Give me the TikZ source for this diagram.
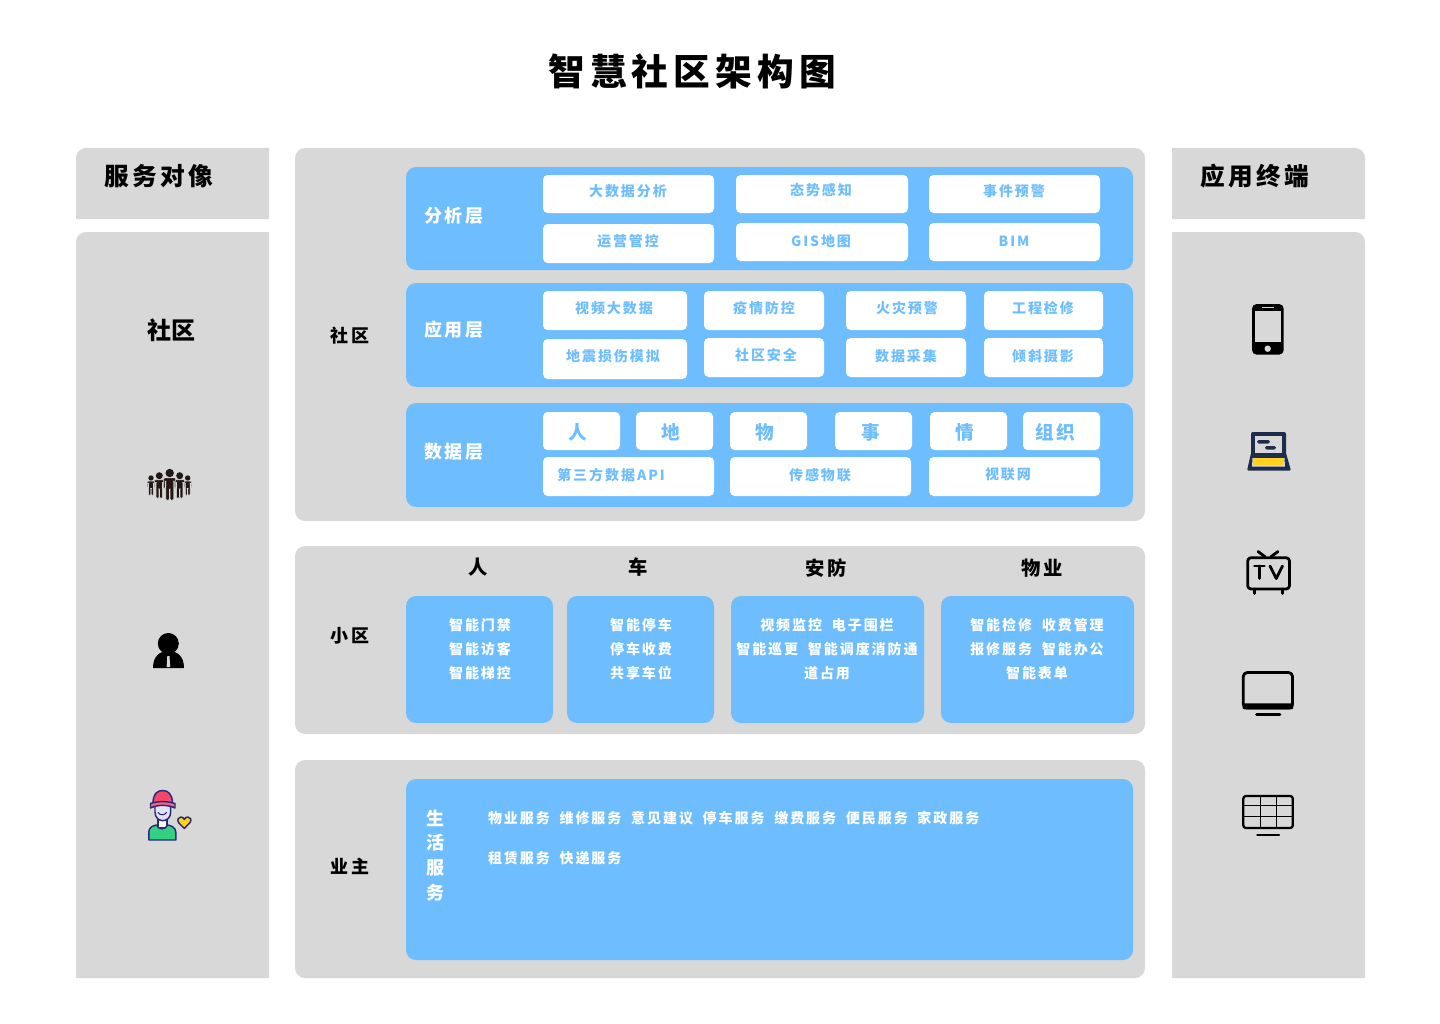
\documentclass[tikz,border=0pt]{standalone}
\usepackage{fontspec}
\newfontfamily\cj[LetterSpace=14]{Noto Sans CJK SC}
\definecolor{panel}{HTML}{D8D8D8}
\definecolor{sky}{HTML}{6EBEFF}
\definecolor{navy}{HTML}{1F2D4D}
\definecolor{ink}{HTML}{231815}
\definecolor{outl}{HTML}{2A2A7C}
\definecolor{capred}{HTML}{F4476B}
\definecolor{shirt}{HTML}{35D07F}
\definecolor{gold}{HTML}{FFD21F}
\definecolor{facec}{HTML}{E4E2F8}
\newcommand\gp{ \hspace{3.4pt}}
\tikzset{
  base/.style={inner sep=0pt,outer sep=0pt,align=center},
  grey/.style={base,fill=panel,rounded corners=7.5pt,anchor=north west},
  blue/.style={base,fill=sky,rounded corners=7.5pt,anchor=north west},
  wb/.style={base,fill=white,rounded corners=3.5pt,anchor=north west},
  tsm/.style={base,text=sky,font=\cj\bfseries\fontsize{10.5pt}{12pt}\selectfont},
  tbig/.style={base,text=sky,font=\cj\bfseries\fontsize{14pt}{16pt}\selectfont},
  tlay/.style={base,text=white,font=\cj\bfseries\fontsize{13.5pt}{16pt}\selectfont},
  twh/.style={base,text=white,font=\cj\bfseries\fontsize{10.5pt}{18pt}\selectfont},
  tblk/.style={base,text=black,font=\cj\bfseries\fontsize{13.5pt}{16pt}\selectfont},
  tcol/.style={base,text=black,font=\cj\bfseries\fontsize{14.5pt}{16pt}\selectfont},
  thead/.style={base,text=black,font=\cj\bfseries\fontsize{18.5pt}{20pt}\selectfont},
  ttitle/.style={base,text=black,font=\cj\bfseries\fontsize{27.5pt}{30pt}\selectfont},
  icon/.style={line width=2.1pt,line cap=round,line join=round,draw=black},
}
\newcommand\rbox[6]{\node[#2,minimum width={(#5-#3)*0.75pt},minimum height={(#6-#4)*0.75pt}] (#1) at (#3,#4) {};}
\newcommand\wbox[8]{\rbox{#1}{wb}{#2}{#3}{#4}{#5}\node[tsm] (#1t) at (#6,#7) {#8};}
\newcommand\dbox[7]{\rbox{#1}{wb}{#2}{#3}{#4}{#5}\node[tbig] (#1t) at (#6,432) {#7};}
\newcommand\crowd[3]{\begin{scope}[shift={(#1,#2)},x=#3*0.75pt,y=-#3*0.75pt]
  \fill[ink] (0,0) circle[radius=4.2];
  \filldraw[fill=ink,draw=panel,line width=0.35pt,rounded corners=0.7pt] (-6,5) -- (6,5) -- (6,15.5) -- (4.6,15.5) -- (4.6,8) -- (3.8,8) -- (3.8,27) -- (0.4,27) -- (0.4,16) -- (-0.4,16) -- (-0.4,27) -- (-3.8,27) -- (-3.8,8) -- (-4.6,8) -- (-4.6,15.5) -- (-6,15.5) -- cycle;
\end{scope}}
\begin{document}
\begin{tikzpicture}[x=0.75pt,y=-0.75pt]
\useasboundingbox (0,0) rectangle (1440,1024);
\fill[white] (0,0) rectangle (1440,1024);
\node[ttitle] (title) at (692,71) {智慧社区架构图};
% side panels
\fill[panel] (76,219) [rounded corners=7.5pt] -- (76,148) [sharp corners] -- (269,148) -- (269,219) -- cycle;
\fill[panel] (76,978) [rounded corners=7.5pt] -- (76,232) [sharp corners] -- (269,232) -- (269,978) -- cycle;
\fill[panel] (1172,219) -- (1172,148) [rounded corners=7.5pt] -- (1365,148) [sharp corners] -- (1365,219) -- cycle;
\fill[panel] (1172,978) -- (1172,232) [rounded corners=7.5pt] -- (1365,232) [sharp corners] -- (1365,978) -- cycle;
\node[thead] (hl) at (159,176) {服务对像};
\node[thead] (hr) at (1255,176) {应用终端};
\node[base,text=black,font=\cj\bfseries\fontsize{18pt}{22pt}\selectfont] (sq) at (171,330) {\addfontfeature{LetterSpace=0}社区};
% centre panels
\rbox{g1}{grey}{295}{148}{1145}{521}
\rbox{g2}{grey}{295}{546}{1145}{734}
\rbox{g3}{grey}{295}{760}{1145}{978}
\node[tblk] (l1) at (350,336) {社区};
\node[tblk] (l2) at (350,636) {小区};
\node[tblk] (l3) at (350,866) {业主};
% layers
\rbox{b1}{blue}{406}{167}{1133}{270}
\rbox{b2}{blue}{406}{283}{1133}{387}
\rbox{b3}{blue}{406}{403}{1133}{507}
\node[tlay] (t1) at (454,216) {分析层};
\node[tlay] (t2) at (454,330) {应用层};
\node[tlay] (t3) at (454,452) {数据层};
\wbox{a1}{543}{175}{714}{213}{628}{191}{大数据分析}
\wbox{a2}{736}{175}{908}{213}{821}{190}{态势感知}
\wbox{a3}{929}{175}{1100}{213}{1014}{191}{事件预警}
\wbox{a4}{543}{224}{714}{263}{628}{241}{运营管控}
\wbox{a5}{736}{223}{908}{261}{821}{241}{GIS地图}
\wbox{a6}{929}{223}{1100}{261}{1014}{241}{BIM}
\wbox{p1}{543}{291}{687}{330}{614}{308}{视频大数据}
\wbox{p2}{704}{291}{824}{330}{764}{308}{疫情防控}
\wbox{p3}{846}{291}{966}{330}{907}{308}{火灾预警}
\wbox{p4}{984}{291}{1103}{330}{1043}{308}{工程检修}
\wbox{p5}{543}{339}{687}{379}{613}{356}{地震损伤模拟}
\wbox{p6}{704}{338}{824}{377}{766}{355}{社区安全}
\wbox{p7}{846}{338}{966}{377}{906}{356}{数据采集}
\wbox{p8}{984}{338}{1103}{377}{1043}{356}{倾斜摄影}
\dbox{d1}{543}{412}{620}{450}{578}{人}
\dbox{d2}{636}{412}{713}{450}{671}{地}
\dbox{d3}{730}{412}{807}{450}{765}{物}
\dbox{d4}{835}{412}{912}{450}{871}{事}
\dbox{d5}{930}{412}{1007}{450}{965}{情}
\dbox{d6}{1023}{412}{1100}{450}{1055}{组织}
\wbox{d7}{543}{457}{714}{496}{611}{475}{第三方数据API}
\wbox{d8}{730}{457}{911}{496}{820}{475}{传感物联}
\wbox{d9}{929}{457}{1100}{496}{1008}{474}{视联网}
% middle
\node[tcol] (m1) at (478,567) {人};
\node[tcol] (m2) at (638,567) {车};
\node[tcol] (m3) at (826,568) {安防};
\node[tcol] (m4) at (1042,568) {物业};
\rbox{c1}{blue}{406}{596}{553}{723}
\rbox{c2}{blue}{567}{596}{714}{723}
\rbox{c3}{blue}{731}{596}{924}{723}
\rbox{c4}{blue}{941}{596}{1134}{723}
\node[twh] (c1t) at (480,649) {智能门禁\\智能访客\\智能梯控};
\node[twh] (c2t) at (641,649) {智能停车\\停车收费\\共享车位};
\node[twh] (c3t) at (827,649) {视频监控\gp 电子围栏\\智能巡更\gp 智能调度消防通\\道占用};
\node[twh] (c4t) at (1037,649) {智能检修\gp 收费管理\\报修服务\gp 智能办公\\智能表单};
% bottom
\rbox{e1}{blue}{406}{779}{1133}{960}
\node[base,text=white,font=\cj\bfseries\fontsize{13.5pt}{18.6pt}\selectfont] (e1v) at (435,855.5) {生\\活\\服\\务};
\node[twh,anchor=west] (e1a) at (488,818) {物业服务\gp 维修服务\gp 意见建议\gp 停车服务\gp 缴费服务\gp 便民服务\gp 家政服务};
\node[twh,anchor=west] (e1b) at (488,858) {租赁服务\gp 快递服务};
% left icons
\crowd{151}{478}{0.64}
\crowd{187.7}{478}{0.64}
\crowd{159.3}{475.7}{0.83}
\crowd{179.7}{475.7}{0.83}
\crowd{169.7}{473}{1}
\fill[black] (168.3,643.5) circle[radius=10.5];
\fill[black] (153,668) .. controls (153,656) and (160,651) .. (168.3,651) .. controls (177,651) and (184,656) .. (184,668) -- cycle;
\fill[panel] (167.3,656) -- (169.5,656) -- (170.2,667) -- (166.6,667) -- cycle;
% owner icon
\begin{scope}[draw=outl,line width=1.1pt,line join=round]
\filldraw[fill=white] (158,819) rectangle (167,828);
\filldraw[fill=shirt] (148.8,840) -- (148.8,832) .. controls (148.8,827.5) and (153,825.5) .. (156.5,825) .. controls (158,830) and (166,830) .. (167.5,825) .. controls (171,825.5) and (175.8,827.5) .. (175.8,832) -- (175.8,840) -- cycle;
\filldraw[fill=facec] (155,804) -- (155,812) .. controls (155,823.5) and (170.7,823.5) .. (170.7,812) -- (170.7,804) -- cycle;
\filldraw[fill=capred] (153,803.5) .. controls (153,794) and (157,790.5) .. (162.7,790.5) .. controls (168,790.5) and (172.5,794) .. (172.5,803.5) -- cycle;
\filldraw[fill=capred!85!white] (150.5,803.5) .. controls (158,801) and (167,801) .. (175,803.5) -- (175,808) .. controls (167,804.5) and (158,804.5) .. (150.5,808) -- cycle;
\draw[line width=0.8pt,line cap=round] (158,812.5) .. controls (159.5,815.5) and (165,815.5) .. (166.5,812.5);
\filldraw[fill=gold] (184.3,828.5) -- (178.5,822.5) .. controls (176.5,819.5) and (179,817) .. (181,817) .. controls (182.5,817) and (183.8,818) .. (184.3,819.5) .. controls (184.8,818) and (186.2,817) .. (187.7,817) .. controls (190,817) and (192.3,819.5) .. (190,822.5) -- cycle;
\end{scope}
% phone
\fill[black,rounded corners=3.5pt] (1252,304) rectangle (1283.7,354.7);
\fill[panel] (1255.3,310.7) rectangle (1280.7,342);
\fill[panel] (1267.7,348.7) circle[radius=3.2];
\fill[panel] (1261.7,306.5) rectangle (1274.3,307.6);
% laptop
\fill[navy,rounded corners=1.5pt] (1251,432) rectangle (1286,456);
\fill[navy,rounded corners=1pt] (1251,453) -- (1247,470.7) -- (1291,470.7) -- (1286,453) -- cycle;
\fill[panel] (1255.3,436) rectangle (1282,452.7);
\fill[navy,rounded corners=1.3pt] (1257,440) rectangle (1270,443.5);
\fill[navy,rounded corners=1.3pt] (1265,446) rectangle (1276,449.5);
\fill[panel] (1252.5,458) -- (1284.5,458) -- (1285,466.7) -- (1252,466.7) -- cycle;
\fill[gold] (1253,458) rectangle (1284,465.3);
% tv
\draw[icon,rounded corners=2.5pt] (1247.7,557.7) rectangle (1289.5,589);
\draw[icon] (1258,551.5) -- (1265,556.7);
\draw[icon] (1278,551.5) -- (1271,556.7);
\draw[icon] (1254.3,589) -- (1254.3,593.5);
\draw[icon] (1282.7,589) -- (1282.7,593.5);
\draw[icon] (1254.5,566) -- (1264.3,566);
\draw[icon] (1259.3,566) -- (1259.3,578.5);
\draw[icon] (1270,566) -- (1276.3,578.5) -- (1282.5,566);
% monitor
\draw[icon,rounded corners=3pt] (1243.3,672.5) rectangle (1292.5,708);
\fill[black,rounded corners=1.5pt] (1242.5,703.3) rectangle (1293.3,709.3);
\draw[icon] (1256.5,714.3) -- (1280,714.3);
% grid
\draw[icon,line width=1.7pt,rounded corners=2pt] (1243.3,796) rectangle (1292.8,828);
\draw[black,line width=0.9pt] (1243.3,805.7) -- (1292.8,805.7);
\draw[black,line width=0.9pt] (1243.3,816.3) -- (1292.8,816.3);
\draw[black,line width=0.9pt] (1260.7,796) -- (1260.7,828);
\draw[black,line width=0.9pt] (1276.7,796) -- (1276.7,828);
\draw[icon,line width=1.7pt] (1257.3,835.3) -- (1279,835.3);
\end{tikzpicture}
\end{document}
